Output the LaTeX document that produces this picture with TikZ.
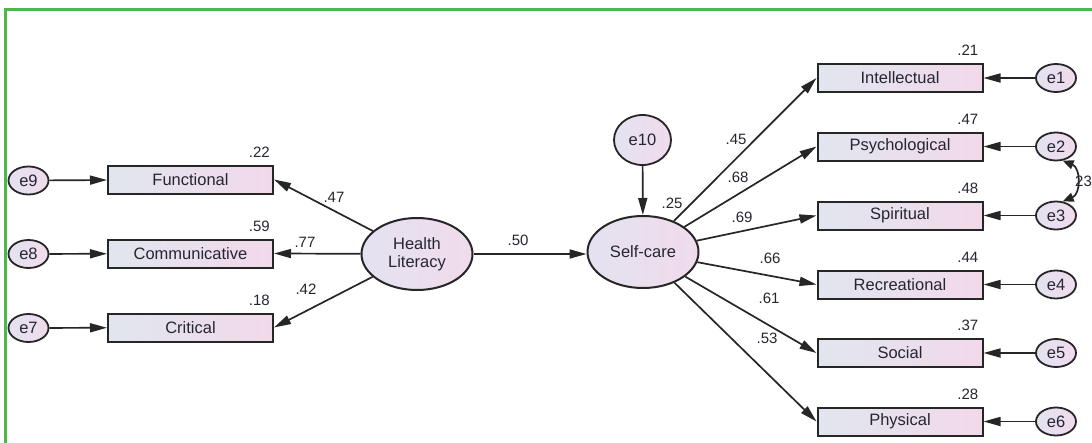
\documentclass[tikz,border=0pt]{standalone}
\usepackage{fontspec}
\setmainfont{Liberation Sans}
\usetikzlibrary{arrows.meta,shapes.geometric}
\definecolor{framegreen}{HTML}{4DB84A}
\definecolor{edgecol}{HTML}{262626}
\definecolor{txtcol}{HTML}{262633}
\definecolor{boxl}{HTML}{E1E6EE}
\definecolor{boxr}{HTML}{F2D9EA}
\definecolor{elll}{HTML}{E4E2F0}
\definecolor{ellr}{HTML}{F0DBEC}
\newcommand\lblfont{\fontsize{16.5}{18.5}\selectfont}
\newcommand\numfont{\fontsize{15}{17}\selectfont}
\begin{document}
\begin{tikzpicture}[x=1pt,y=-1pt,
  obs/.style={draw=edgecol, line width=2pt, left color=boxl, right color=boxr,
    minimum width=165pt, minimum height=28pt, inner sep=0pt, font=\lblfont, text=txtcol},
  lat/.style={ellipse, draw=edgecol, line width=2pt, left color=elll, right color=ellr,
    minimum width=111pt, minimum height=72pt, inner sep=0pt, font=\lblfont, align=center, text=txtcol},
  err/.style={ellipse, draw=edgecol, line width=1.8pt, left color=elll, right color=ellr,
    minimum width=40pt, minimum height=28pt, inner sep=0pt, font=\lblfont, text=txtcol},
  arr/.style={draw=edgecol, line width=1.7pt, -{Triangle[length=17pt,width=9pt]}},
  coef/.style={font=\numfont, text=txtcol, inner sep=0pt},
]
\useasboundingbox (0,0) rectangle (1092,442);
\fill[white] (0,0) rectangle (1092,442);
\draw[framegreen, line width=3pt, line cap=rect] (5.5,442) -- (5.5,9) -- (1092,9);

% left side
\node[err] (e9) at (28.5,180.5) {e9};
\node[err] (e8) at (28.5,254) {e8};
\node[err] (e7) at (28.5,328) {e7};
\node[obs] (fun) at (190.5,179.5) {Functional};
\node[obs] (com) at (190.5,253.5) {Communicative};
\node[obs] (cri) at (190.5,327.5) {Critical};
\node[lat] (hl) at (417,254) {Health\\Literacy};
\node[lat] (sc) at (643,252) {Self-care};
\node[ellipse, draw=edgecol, line width=1.8pt, left color=elll, right color=ellr,
  minimum width=57pt, minimum height=50pt, inner sep=0pt, font=\lblfont, text=txtcol] (e10) at (642.5,140) {e10};

% right side
\node[obs] (int) at (900,78) {Intellectual};
\node[obs] (psy) at (900,146.5) {Psychological};
\node[obs] (spi) at (900,215.5) {Spiritual};
\node[obs] (rec) at (900,284.5) {Recreational};
\node[obs] (soc) at (900,353) {Social};
\node[obs] (phy) at (900,421.5) {Physical};
\node[err] (e1) at (1056,78) {e1};
\node[err] (e2) at (1056,146.5) {e2};
\node[err] (e3) at (1056,215.5) {e3};
\node[err] (e4) at (1056,284.5) {e4};
\node[err] (e5) at (1056,353) {e5};
\node[err] (e6) at (1056,421.5) {e6};

% connectors
\draw[arr] (e9) -- (fun);
\draw[arr] (e8) -- (com);
\draw[arr] (e7) -- (cri);
\draw[arr] (hl) -- (fun.east);
\draw[arr] (hl) -- (com.east);
\draw[arr] (hl) -- (cri.east);
\draw[arr] (hl.east) -- (sc.west |- hl.east);
\draw[arr] (e10) -- (sc);
\draw[arr] (sc) -- (int.west);
\draw[arr] (sc) -- (psy.west);
\draw[arr] (sc) -- (spi.west);
\draw[arr] (sc) -- (rec.west);
\draw[arr] (sc) -- (soc.west);
\draw[arr] (sc) -- (phy.west);
\draw[arr] (e1) -- (int);
\draw[arr] (e2) -- (psy);
\draw[arr] (e3) -- (spi);
\draw[arr] (e4) -- (rec);
\draw[arr] (e5) -- (soc);
\draw[arr] (e6) -- (phy);
\draw[draw=edgecol, line width=1.7pt, {Triangle[length=11pt,width=9pt]}-{Triangle[length=11pt,width=9pt]}]
  (e2.-65) .. controls (1081,168) and (1081,194) .. (e3.65);
\node[coef, anchor=west] (cv) at (1075,181) {23};

% squared multiple correlations
\node[coef, anchor=south east] at ([xshift=-4pt,yshift=7pt]fun.north east) {.22};
\node[coef, anchor=south east] at ([xshift=-4pt,yshift=7pt]com.north east) {.59};
\node[coef, anchor=south east] at ([xshift=-4pt,yshift=7pt]cri.north east) {.18};
\node[coef, anchor=south east] at ([xshift=-5pt,yshift=7pt]int.north east) {.21};
\node[coef, anchor=south east] at ([xshift=-5pt,yshift=7pt]psy.north east) {.47};
\node[coef, anchor=south east] at ([xshift=-5pt,yshift=7pt]spi.north east) {.48};
\node[coef, anchor=south east] at ([xshift=-5pt,yshift=7pt]rec.north east) {.44};
\node[coef, anchor=south east] at ([xshift=-5pt,yshift=7pt]soc.north east) {.37};
\node[coef, anchor=south east] at ([xshift=-5pt,yshift=7pt]phy.north east) {.28};
\node[coef] at (672,203) {.25};

% path coefficients
\node[coef] at (334,197) {.47};
\node[coef] at (305,242) {.77};
\node[coef] at (306,289) {.42};
\node[coef] at (518,240) {.50};
\node[coef] at (736,139) {.45};
\node[coef] at (738,177) {.68};
\node[coef] at (742,217) {.69};
\node[coef] at (770,258) {.66};
\node[coef] at (769,298) {.61};
\node[coef] at (767,338) {.53};
\end{tikzpicture}
\end{document}
